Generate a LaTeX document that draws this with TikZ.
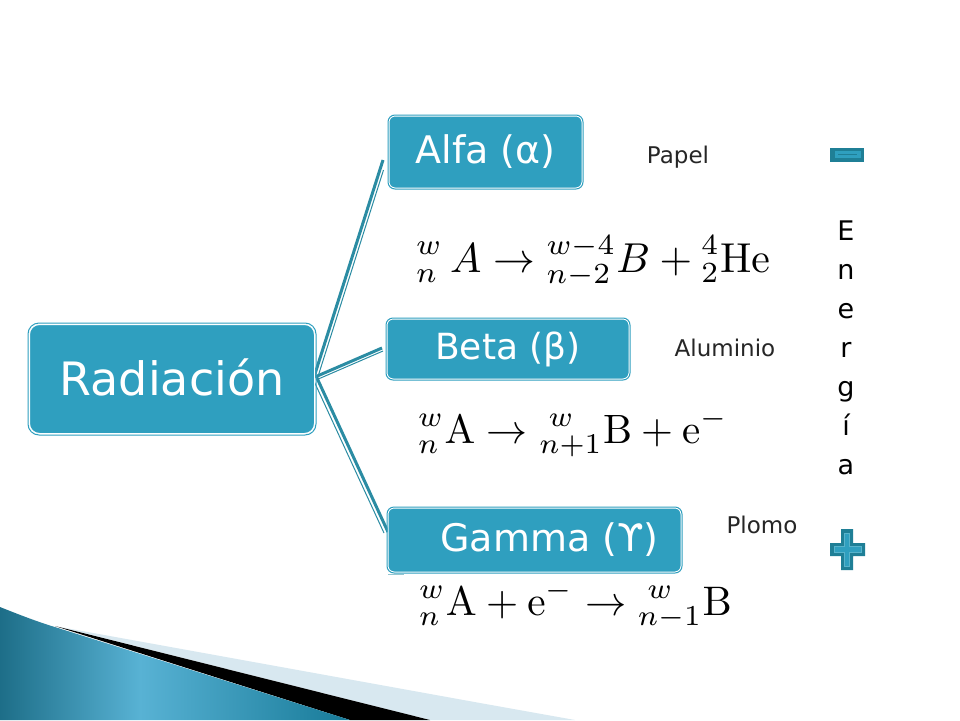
\documentclass[tikz,border=0pt]{standalone}
\usepackage[no-math]{fontspec}
\setmainfont{DejaVu Sans}
\usetikzlibrary{calc}
\definecolor{boxfill}{HTML}{2F9FBF}
\definecolor{linkteal}{HTML}{2B8CA3}
\definecolor{darkteal}{HTML}{1F7F96}
\definecolor{midteal}{HTML}{2FA0BE}
\definecolor{paleblue}{HTML}{D8E8F0}
\definecolor{swleft}{HTML}{004C62}
\definecolor{swmid}{HTML}{58B2D4}
\definecolor{swright}{HTML}{177A98}
\tikzset{
 bigbox/.style={draw=white,line width=1pt,fill=boxfill,rounded corners=6pt,text=white,inner sep=0pt,outer sep=0pt,align=center},
 boxframe/.style={draw=boxfill,line width=1pt,rounded corners=7pt},
 link/.style={draw=linkteal,line width=3pt},
 linkthin/.style={draw=linkteal,line width=1pt},
 lab/.style={font=\fontsize{23}{27}\selectfont,text=black!85,inner sep=0pt},
 eqn/.style={inner sep=0pt,text=black,anchor=west},
}
\begin{document}
\begin{tikzpicture}[x=1pt,y=-1pt]
\useasboundingbox (0,0) rectangle (960,720);
\fill[white] (0,0) rectangle (960,720);
% bottom swoosh
\fill[paleblue] (60,627) -- (480,703) -- (575,720) -- (430,720) -- cycle;
\fill[black] (55,626) -- (430,720) -- (350,720) -- cycle;
\begin{scope}
\clip (0,607) .. controls (20,615) and (38,622) .. (58,628) -- (350,720) -- (0,720) -- cycle;
\shade[left color=swleft,right color=swright,middle color=swmid] (-70,600) rectangle (350,720);
\end{scope}
% connectors
\coordinate (hub) at (315,378);
\coordinate (alfaend) at (384,160);
\coordinate (betaend) at (382,349);
\coordinate (gammaend) at (386,532);
\draw[link] ($(hub)+(-1,-1)$) -- ($(alfaend)+(-1,0)$);
\draw[linkthin] ($(hub)+(2.5,0)$) -- ($(alfaend)+(-0.5,10)$);
\draw[link] ($(hub)+(0,-1)$) -- ($(betaend)+(0,-1)$);
\draw[linkthin] ($(hub)+(1,2)$) -- ($(betaend)+(1,2)$);
\draw[link] ($(hub)+(2,0)$) -- ($(gammaend)+(2,0)$);
\draw[linkthin] ($(hub)+(-2,1)$) -- ($(gammaend)+(-2,1)$);
\draw[linkteal!50!white,line width=.8pt] (388,574) -- (404,574);
% boxes
\node[bigbox,rounded corners=10pt,minimum width=285pt,minimum height=109pt,font=\fontsize{46}{52}\selectfont] (root) at (172,379) {\raisebox{3pt}{Radiación}};
\node[bigbox,minimum width=193pt,minimum height=72pt,font=\fontsize{38}{44}\selectfont] (alfa) at (485.5,152) {Alfa (α)};
\node[bigbox,minimum width=242pt,minimum height=60pt,font=\fontsize{36}{42}\selectfont] (beta) at (508,349) {Beta (β)};
\node[bigbox,minimum width=293pt,minimum height=64pt,font=\fontsize{38}{44}\selectfont] (gamma) at (534.5,540) {\hspace*{30pt}Gamma (ϒ)};
\draw[boxframe,rounded corners=11pt] (28,323) rectangle (316,435);
\draw[boxframe] (388,115) rectangle (583,189);
\draw[boxframe] (386,318) rectangle (630,380);
\draw[boxframe] (387,507) rectangle (682,573);
% equations
\node[eqn] (eqa) at (416,261) {\scalebox{4.18}{$\displaystyle {}^{w}_{n}\,A\rightarrow{}^{w-4}_{n-2}B+{}^{4}_{2}\mathrm{He}$}};
\node[eqn] (eqb) at (418,433) {\scalebox{4.1}{$\displaystyle {}^{w}_{n}\mathrm{A}\rightarrow{}^{\;w}_{n+1}\mathrm{B}+\mathrm{e}^{-}$}};
\node[eqn] (eqc) at (419,605) {\scalebox{4.13}{$\displaystyle {}^{w}_{n}\mathrm{A}+\mathrm{e}^{-}\rightarrow{}^{\;w}_{n-1}\mathrm{B}$}};
% labels
\node[lab] (papel) at (678,157) {Papel};
\node[lab] (alum) at (725,348) {Aluminio};
\node[lab] (plomo) at (762,525) {Plomo};
% energy column
\node[inner sep=0pt,font=\fontsize{27}{39}\selectfont,align=center,text=black] (energia) at (846,348) {E\\n\\e\\r\\g\\í\\a};
% minus
\fill[darkteal] (830,148) rectangle (864,162);
\draw[midteal,line width=1pt,fill=boxfill] (835,151.5) rectangle (860,157.5);
\draw[darkteal,line width=.6pt] (838,154.5) -- (857,154.5);
% plus
\fill[darkteal] (841,529) -- (853,529) -- (853,543) -- (865,543) -- (865,556) -- (853,556) -- (853,570) -- (841,570) -- (841,556) -- (830,556) -- (830,543) -- (841,543) -- cycle;
\draw[midteal!80!white,line width=1pt,fill=boxfill] (844.5,533) -- (849.5,533) -- (849.5,546.5) -- (861,546.5) -- (861,552) -- (849.5,552) -- (849.5,566) -- (844.5,566) -- (844.5,552) -- (834,552) -- (834,546.5) -- (844.5,546.5) -- cycle;
\end{tikzpicture}
\end{document}
